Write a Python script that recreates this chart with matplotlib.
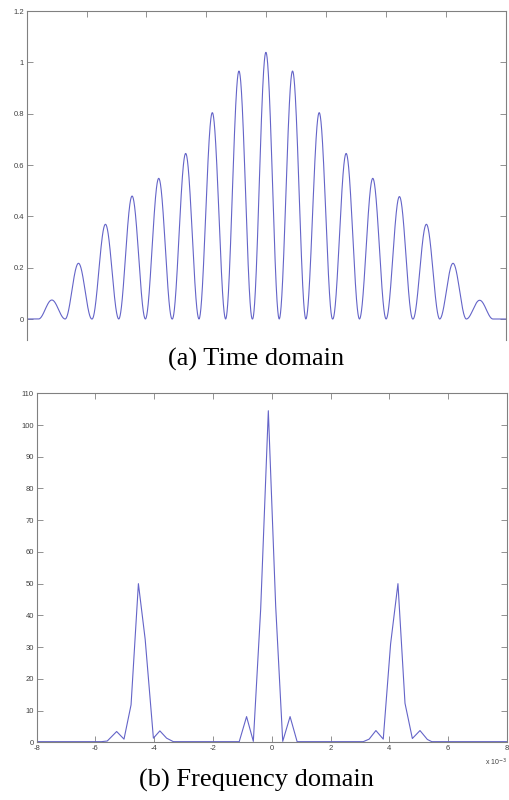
import numpy as np
import matplotlib
matplotlib.use("Agg")
import matplotlib.pyplot as plt

plt.rcParams["axes.unicode_minus"] = False

# ---------------- data ----------------
# Time domain: pulse centres and pulse peak heights
pulse_centers = [-7.16, -6.27, -5.37, -4.48, -3.59, -2.69, -1.80, -0.91, -0.01,
                 0.88, 1.77, 2.67, 3.56, 4.45, 5.35, 6.24, 7.13]
pulse_heights = [0.074, 0.217, 0.369, 0.479, 0.548, 0.645, 0.804, 0.966, 1.039,
                 0.966, 0.804, 0.645, 0.548, 0.477, 0.369, 0.217, 0.073]
pulse_period = 0.893

# Frequency domain: polyline vertices
freq_x = [-8.0, -5.80, -5.60, -5.28, -5.03, -4.79, -4.54, -4.31, -4.03, -3.81, -3.58, -3.35,
          -1.11, -0.86, -0.63, -0.38, -0.12, 0.13, 0.37, 0.62, 0.86,
          3.11, 3.31, 3.54, 3.79, 4.04, 4.29, 4.53, 4.78, 5.04, 5.29, 5.44, 8.0]
freq_y = [0.2, 0.2, 0.4, 3.4, 1.0, 11.8, 50.0, 32.5, 1.3, 3.6, 1.3, 0.2,
          0.2, 8.1, 0.3, 42.0, 104.5, 43.0, 0.3, 8.1, 0.2,
          0.2, 1.0, 3.7, 1.0, 31.0, 50.0, 12.3, 1.2, 3.7, 0.9, 0.2, 0.2]

x_ticks = [-8, -6, -4, -2, 0, 2, 4, 6, 8]
top_yticks = [0, 0.2, 0.4, 0.6, 0.8, 1, 1.2]
bot_yticks = [0, 10, 20, 30, 40, 50, 60, 70, 80, 90, 100, 110]

# ---------------- figure ----------------
W, H = 510, 800
fig = plt.figure(figsize=(W / 100, H / 100), dpi=100)
fig.patch.set_facecolor("white")

line_color = "#6464c8"
spine_color = "#808080"
label_color = "#404040"


def style_axes(ax):
    for s in ax.spines.values():
        s.set_color(spine_color)
        s.set_linewidth(0.8)
    ax.tick_params(direction="in", length=4, width=0.6, color=spine_color,
                   labelcolor=label_color, labelsize=5.5, pad=2,
                   top=True, right=True)
    for lab in ax.get_xticklabels() + ax.get_yticklabels():
        lab.set_family("Liberation Sans")


# ---- top: time domain ----
ax1 = fig.add_axes([26.7 / W, 1 - 340 / H, (505.7 - 26.7) / W, (340 - 11) / H])
t = np.linspace(-8, 8, 4000)
sig = np.zeros_like(t)
for c, h in zip(pulse_centers, pulse_heights):
    m = np.abs(t - c) <= pulse_period / 2
    sig[m] += h * np.cos(np.pi * (t[m] - c) / pulse_period) ** 2
ax1.plot(t, sig, color=line_color, lw=0.8)
ax1.set_xlim(-8, 8)
ax1.set_ylim(-0.0818, 1.2)
ax1.set_xticks(x_ticks)
ax1.set_yticks(top_yticks)
ax1.set_yticklabels(["0", "0.2", "0.4", "0.6", "0.8", "1", "1.2"])
style_axes(ax1)
ax1.spines["bottom"].set_visible(False)
ax1.tick_params(axis="x", bottom=False, labelbottom=False)

# ---- bottom: frequency domain ----
ax2 = fig.add_axes([36.7 / W, 1 - 742.3 / H, (507 - 36.7) / W, (742.3 - 393.3) / H])
ax2.plot(freq_x, freq_y, color=line_color, lw=0.8)
ax2.set_xlim(-8, 8)
ax2.set_ylim(0, 110)
ax2.set_xticks(x_ticks)
ax2.set_yticks(bot_yticks)
style_axes(ax2)
ax2.text(1.0, -0.042, r"x 10$^{-3}$", transform=ax2.transAxes, ha="right", va="top",
         fontsize=5, color=label_color, family="Liberation Sans")

# ---- captions ----
fig.text(256.5 / W, 1 - 359 / H, "(a) Time domain", ha="center", va="center",
         family="Liberation Serif", fontsize=19)
fig.text(256 / W, 1 - 780 / H, "(b) Frequency domain", ha="center", va="center",
         family="Liberation Serif", fontsize=19)

fig.savefig("out.png", dpi=100, facecolor="white")
